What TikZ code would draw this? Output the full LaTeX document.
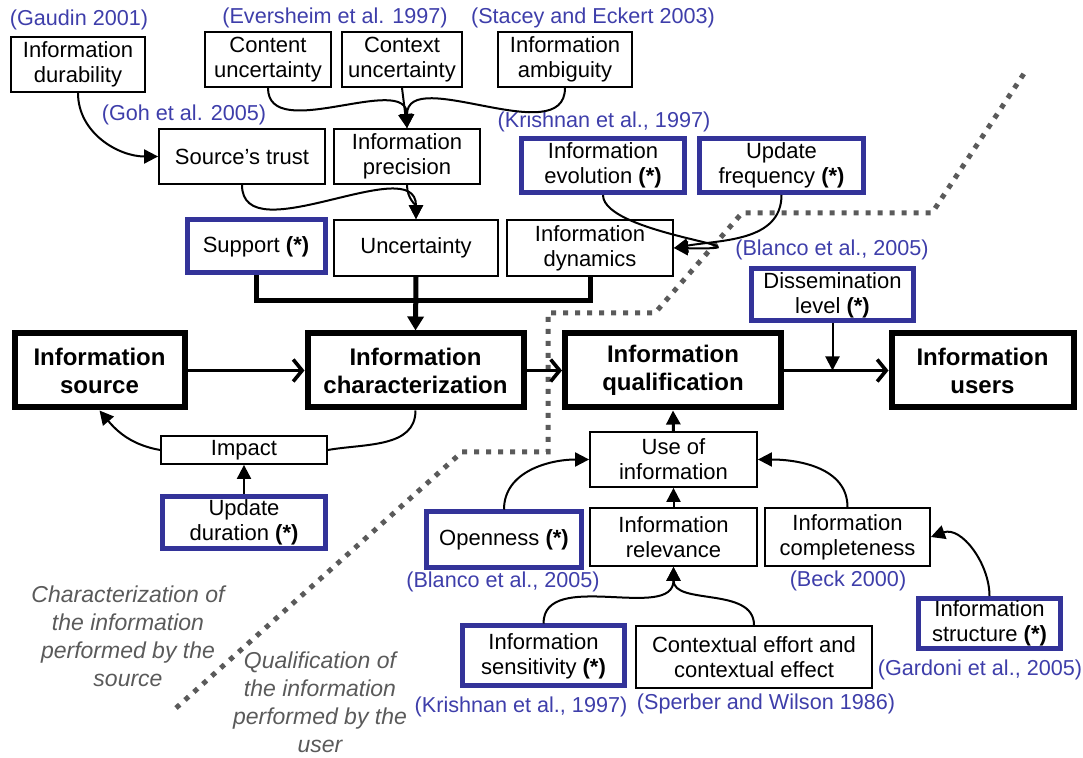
\documentclass[tikz,border=0pt]{standalone}
\usepackage{fontspec}
\setmainfont{Liberation Sans}
\definecolor{refblue}{RGB}{51,51,153}
\definecolor{citeblue}{RGB}{62,62,170}
\definecolor{notegray}{RGB}{90,90,90}
\usetikzlibrary{arrows.meta,calc}

\tikzset{
  box/.style={draw, line width=0.9pt, align=center, inner sep=1pt, font=\fontsize{11}{12.5}\selectfont},
  refbox/.style={box, draw=refblue, line width=2.5pt},
  mainbox/.style={draw, line width=3pt, align=center, inner sep=1pt, font=\fontsize{12}{14}\selectfont\bfseries},
  cite/.style={text=citeblue, inner sep=0pt, font=\fontsize{10.8}{13}\selectfont},
  note/.style={text=notegray, align=center, font=\fontsize{11.5}{14}\selectfont\itshape},
  conn/.style={line width=1pt, -{Triangle[length=7pt,width=7pt]}},
  flow/.style={line width=1.2pt, -{Straight Barb[length=4.5pt,width=11pt,line width=1.8pt]}},
  bar/.style={line width=2.5pt},
  border/.style={line width=2.5pt, notegray, dash pattern=on 2.5pt off 3.5pt}
}

\begin{document}
\begin{tikzpicture}[x=0.5pt,y=-0.5pt]
\useasboundingbox (0,0) rectangle (1083,758);

% --- Border between the two halves ---
\draw[border] (176,708) -- (462,452) -- (548,452) -- (548,313) -- (655,313)
  -- (742,213) -- (932,213) -- (1025,72);

% --- Main chain ---
\node[mainbox, minimum width=85pt, minimum height=37pt] (src) at (99.5,370.5) {Information\\source};
\node[mainbox, minimum width=108pt, minimum height=37pt] (char) at (415.5,370.5) {Information\\characterization};
\node[mainbox, minimum width=108pt, minimum height=37pt] (qual) at (673,370.5) {Information\\qualification};
\node[mainbox, minimum width=91pt, minimum height=37pt] (users) at (982.5,370.5) {Information\\users};

% --- Characterization side ---
\node[box, minimum width=67pt, minimum height=27.5pt] (dur) at (78,64.5) {Information\\durability};
\node[box, minimum width=63pt, minimum height=27.5pt] (cont) at (268,59.5) {Content\\uncertainty};
\node[box, minimum width=60pt, minimum height=27.5pt] (ctx) at (402,59.5) {Context\\uncertainty};
\node[box, minimum width=67pt, minimum height=27.5pt] (amb) at (565,59.5) {Information\\ambiguity};
\node[box, minimum width=83pt, minimum height=27.5pt] (trust) at (242,156.5) {Source’s trust};
\node[box, minimum width=73pt, minimum height=27.5pt] (prec) at (407,156.5) {Information\\precision};
\node[refbox, minimum width=69pt, minimum height=26.5pt] (supp) at (256,246.5) {Support \textbf{(*)}};
\node[box, minimum width=82pt, minimum height=28pt] (unc) at (416,248) {Uncertainty};
\node[box, minimum width=83pt, minimum height=28pt] (dyn) at (590,248) {Information\\dynamics};
\node[refbox, minimum width=81.5pt, minimum height=27pt] (evo) at (603,165.5) {Information\\evolution \textbf{(*)}};
\node[refbox, minimum width=82pt, minimum height=27pt] (freq) at (781.5,165.5) {Update\\frequency \textbf{(*)}};
\node[box, minimum width=83pt, minimum height=14pt] (impact) at (244,450) {Impact};
\node[refbox, minimum width=81.5pt, minimum height=26pt] (updur) at (244,522.5) {Update\\duration \textbf{(*)}};

% --- Qualification side ---
\node[refbox, minimum width=81pt, minimum height=26pt] (diss) at (832.5,295) {Dissemination\\level \textbf{(*)}};
\node[box, minimum width=83.5pt, minimum height=27.5pt] (use) at (673.5,459.5) {Use of\\information};
\node[refbox, minimum width=77.5pt, minimum height=28pt] (open) at (504,540) {Openness \textbf{(*)}};
\node[box, minimum width=83.5pt, minimum height=29pt] (rel) at (673.5,537) {Information\\relevance};
\node[box, minimum width=82.5pt, minimum height=29pt] (compl) at (847.5,537) {Information\\completeness};
\node[refbox, minimum width=81pt, minimum height=30pt] (sens) at (543.5,656) {Information\\sensitivity \textbf{(*)}};
\node[box, minimum width=118pt, minimum height=31pt] (ctxeff) at (754,657) {Contextual effort and\\contextual effect};
\node[refbox, minimum width=71pt, minimum height=25pt] (struct) at (989.5,623.5) {Information\\structure \textbf{(*)}};

% --- References ---
\node[cite] (c1) at (79,20) {(Gaudin 2001)};
\node[cite] (c2) at (335,18) {(Eversheim et al. 1997)};
\node[cite] (c3) at (593,18) {(Stacey and Eckert 2003)};
\node[cite] (c4) at (184,115) {(Goh et al. 2005)};
\node[cite] (c5) at (604,122) {(Krishnan et al., 1997)};
\node[cite] (c6) at (832,250) {(Blanco et al., 2005)};
\node[cite] (c7) at (503,582) {(Blanco et al., 2005)};
\node[cite] (c8) at (848,581) {(Beck 2000)};
\node[cite] (c9) at (980,670) {(Gardoni et al., 2005)};
\node[cite] (c10) at (521,707) {(Krishnan et al., 1997)};
\node[cite] (c11) at (766,704) {(Sperber and Wilson 1986)};

% --- Notes ---
\node[note] (n1) at (128,636) {Characterization of\\the information\\performed by the\\source};
\node[note] (n2) at (320,702) {Qualification of\\the information\\performed by the\\user};

% --- Connectors ---
\draw[conn] (dur.south) to[out=-90,in=180] (trust.west);
\draw[conn] (cont.south) to[out=-90,in=90] (prec.north);
\draw[conn] (ctx.south) -- (prec.north);
\draw[conn] (amb.south) to[out=-90,in=90] (prec.north);
\draw[conn] (trust.south) to[out=-90,in=90] (unc.north);
\draw[conn] (prec.south) to[out=-90,in=90] (unc.north);
\draw[conn] (evo.south) .. controls (603,235) and (790,250) .. (dyn.east);
\draw[conn] (freq.south) to[out=-90,in=10] (dyn.east);

\draw[bar] (supp.south) -- ++(0,25) -| (dyn.south);
\draw[bar, -{Triangle[length=7pt,width=8pt]}] (unc.south) -- (char.north);

\draw[flow] (src) -- (char);
\draw[flow] (char) -- (qual);
\draw[flow] (qual) -- (users);
\coordinate (hit) at (diss.south |- qual.east);
\draw[conn] (diss.south) -- (hit);

\draw[line width=1pt] (char.south) to[out=-90,in=10] (impact.east);
\draw[conn] (impact.west) to[out=170,in=-50] (src.south);
\draw[conn] (updur.north) -- (impact.south);

\draw[conn, line width=1.5pt] (use.north) -- (qual.south);
\draw[conn] (rel.north) -- (use.south);
\draw[conn] (open.north) to[out=90,in=180] (use.west);
\draw[conn] (compl.north) to[out=90,in=0] (use.east);
\draw[conn] (struct.north) to[out=90,in=20] (compl.east);
\draw[conn] (sens.north) to[out=90,in=-90] (rel.south);
\draw[conn] (ctxeff.north) to[out=90,in=-90] (rel.south);

\end{tikzpicture}
\end{document}
